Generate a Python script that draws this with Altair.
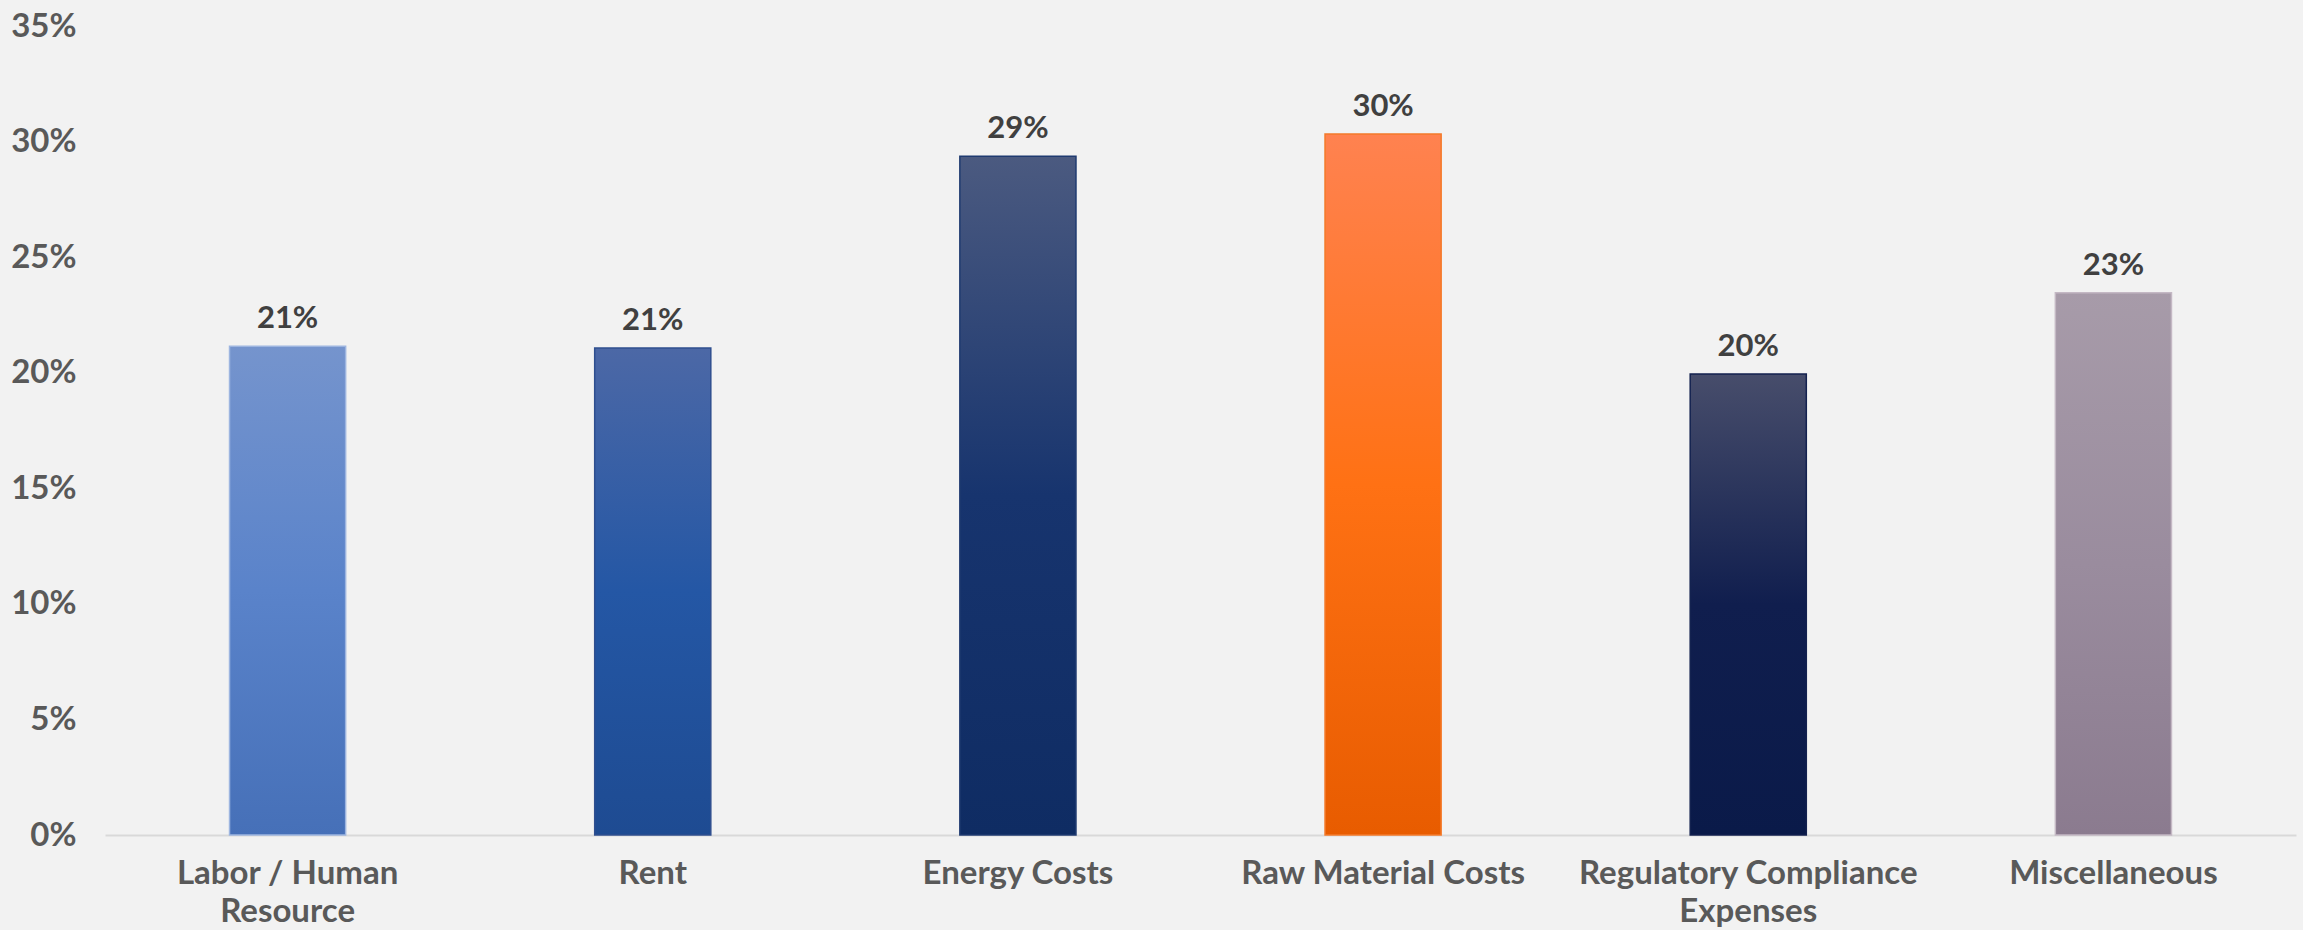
import altair as alt
import pandas as pd

categories = ["Labor / Human Resource", "Rent", "Energy Costs", "Raw Material Costs",
              "Regulatory Compliance Expenses", "Miscellaneous"]
values = [0.2115, 0.2107, 0.2937, 0.3033, 0.1994, 0.2346]
y_ticks = [0, 0.05, 0.10, 0.15, 0.20, 0.25, 0.30, 0.35]

# gradient stops (top, middle, bottom) and outline per bar
gradients = [
    ("#7594cd", "#5a83ca", "#4670b8", "#9db5e0"),
    ("#4c68a6", "#2457a5", "#1e4b92", "#2f4f8f"),
    ("#4b5a80", "#17346e", "#0f2c63", "#1f3a70"),
    ("#ff8250", "#ff7114", "#e85c00", "#f47a2a"),
    ("#474d6b", "#101e4e", "#0a1a49", "#13214f"),
    ("#a79ba9", "#9a8c9e", "#8b7b8f", "#c4b8c4"),
]

df = pd.DataFrame({"category": categories, "value": values})

FONT = "Lato"
label_map = {
    "Labor / Human Resource": ["Labor / Human", "Resource"],
    "Regulatory Compliance Expenses": ["Regulatory Compliance", "Expenses"],
}
expr = "datum.value"
for k, v in label_map.items():
    expr = f"datum.value == '{k}' ? [{', '.join(repr(s) for s in v)}] : " + expr

x = alt.X("category:N", sort=categories, title=None,
          scale=alt.Scale(paddingInner=0, paddingOuter=0),
          axis=alt.Axis(labelAngle=0, labelFont=FONT, labelFontSize=33, labelFontWeight="bold",
                        labelColor="#595959", labelPadding=22, labelLineHeight=38,
                        ticks=False, domainColor="#d9d9d9", domainWidth=2,
                        labelExpr=expr, labelLimit=600))
y = alt.Y("value:Q", title=None,
          scale=alt.Scale(domain=[0, 0.35], nice=False),
          axis=alt.Axis(values=y_ticks, format=".0%", grid=False, domain=False, ticks=False,
                        labelFont=FONT, labelFontSize=33, labelFontWeight="bold",
                        labelColor="#595959", labelPadding=29))

layers = []
for cat, (c1, c2, c3, stroke) in zip(categories, gradients):
    grad = alt.Gradient(gradient="linear",
                        stops=[alt.GradientStop(color=c1, offset=0),
                               alt.GradientStop(color=c2, offset=0.5),
                               alt.GradientStop(color=c3, offset=1)],
                        x1=0, x2=0, y1=0, y2=1)
    layers.append(
        alt.Chart(df).transform_filter(alt.datum.category == cat)
        .mark_bar(color=grad, stroke=stroke, strokeWidth=1.5, width=alt.RelativeBandSize(0.318))
        .encode(x=x, y=y)
    )

text = alt.Chart(df).mark_text(baseline="alphabetic", dy=-18, font=FONT, fontSize=31,
                               fontWeight="bold", color="#404040").encode(
    x=x, y=y, text=alt.Text("value:Q", format=".0%"))

chart = alt.layer(*layers, text).properties(
    width=2191, height=809, background="#f2f2f2",
    padding={"left": 105, "top": 26, "right": 7, "bottom": 95},
    autosize=alt.AutoSizeParams(type="none"),
).configure_view(stroke=None)

chart.save("out.html", embed_options={"renderer": "svg", "actions": False})
